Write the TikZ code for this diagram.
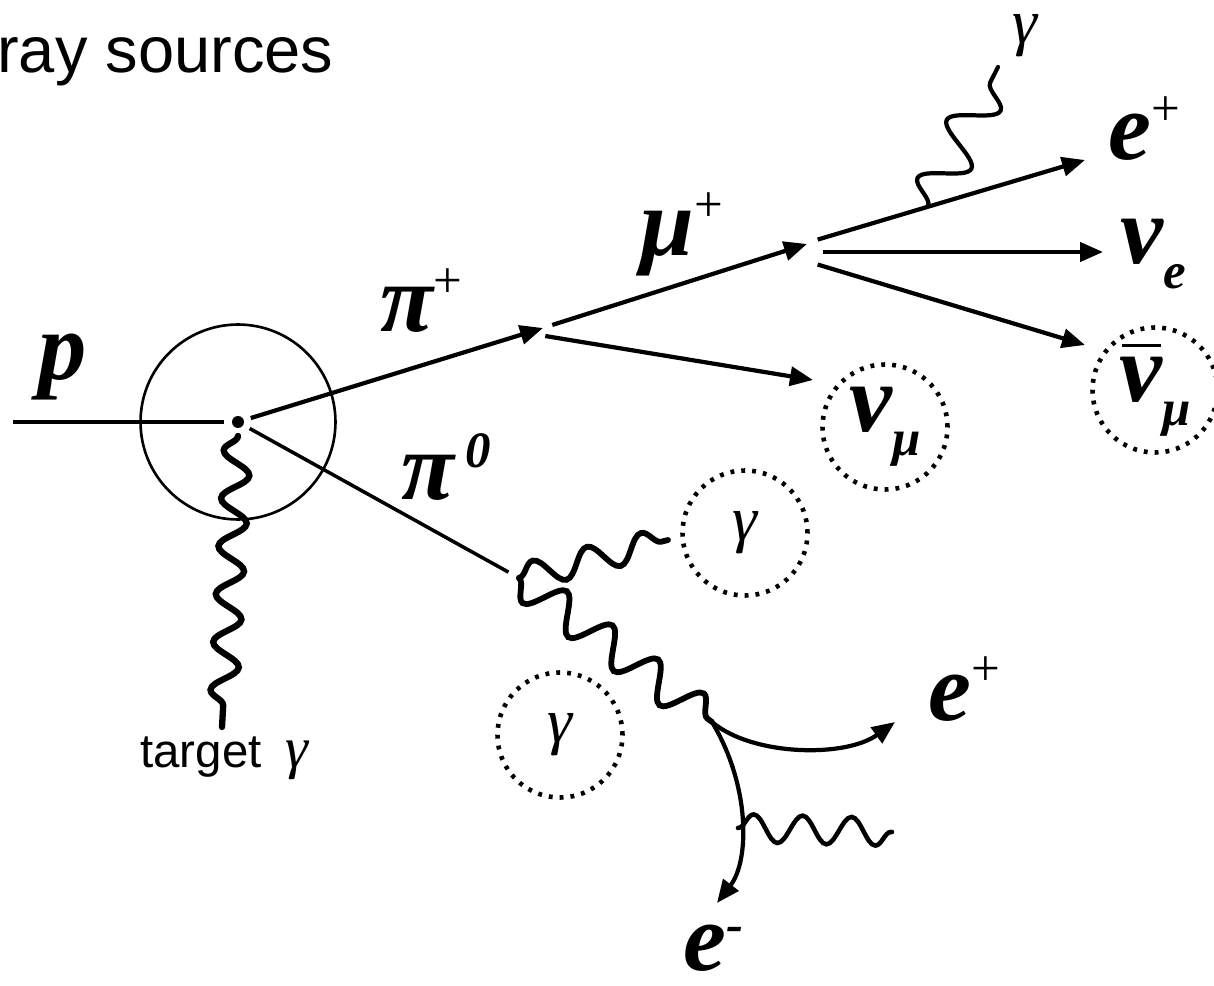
\documentclass[tikz,border=0pt]{standalone}
\usepackage{fontspec}
\setmainfont{Liberation Serif}
\newfontfamily\headfont{Liberation Sans}
\usetikzlibrary{arrows.meta, decorations.pathmorphing}

\newcommand\ptlfont{\fontsize{55}{55}\selectfont\bfseries\itshape}
\newcommand\scrfont{\fontsize{29}{29}\selectfont}
\newcommand\gamfont{\fontsize{36}{36}\selectfont\itshape}
\newcommand\psup[1]{\raisebox{0.36em}{\scrfont\mdseries\upshape #1}}
\newcommand\psub[1]{\raisebox{-0.25em}{\scrfont #1}}

\begin{document}
\begin{tikzpicture}[x=0.02cm, y=-0.02cm,
    lep/.style={line width=2.4pt},
    arr/.style={line width=2.4pt, -{Triangle[length=0.46cm, width=0.38cm]}},
    photon/.style 2 args={line width=3.3pt, line cap=round, decorate,
        decoration={snake, segment length=#1, amplitude=#2}},
    ptl/.style={inner sep=0pt, anchor=base west, font=\ptlfont},
    dotcirc/.style={circle, draw, dash pattern=on 2.2pt off 4pt, line width=2.6pt,
        minimum size=2.5cm, inner sep=0pt}]
    \useasboundingbox (0,0) rectangle (1214,986);

    \node[anchor=base west, inner sep=0pt, font=\headfont\fontsize{37}{37}\selectfont] (title) at (-3,73) {ray sources};

    % interaction point
    \node[circle, draw, line width=1.5pt, minimum size=3.9cm, inner sep=0pt] (target) at (238,422) {};
    \node[circle, fill, inner sep=0pt, minimum size=0.24cm] (vtx) at (238,422) {};

    \coordinate (beam) at (13,422);
    \coordinate (pitip) at (543,328);
    \coordinate (pidecay) at (527,333);
    \coordinate (mutip) at (807,244);
    \coordinate (numutip) at (813,380);
    \coordinate (mudecay) at (776,252);
    \coordinate (eptip) at (1085,160);
    \coordinate (nuetip) at (1103,252);
    \coordinate (nubtip) at (1085,345);
    \coordinate (radv) at (928,206);
    \coordinate (radend) at (998,67);
    \coordinate (pi0decay) at (519,578);
    \coordinate (g1end) at (668,540);
    \coordinate (conv) at (712,722);
    \coordinate (e2tip) at (895,722);
    \coordinate (emtip) at (717,903);
    \coordinate (brem) at (738,828);
    \coordinate (bremend) at (892,832);
    \coordinate (tgtop) at (238,436);
    \coordinate (tgend) at (222,727);

    % labels
    \node[ptl] (lp) at (38,380) {p};
    \node[ptl] (lpip) at (380,332) {π\psup{+}};
    \node[ptl] (lmu) at (640,256) {μ\psup{+}};
    \node[ptl] (lep) at (1108,160) {e\psup{+}};
    \node[ptl] (lnue) at (1120,264) {ν\psub{e}};
    \node[ptl] (lpi0) at (401,500) {π\hspace{0.12em}\raisebox{0.34em}{\scrfont 0}};
    \node[ptl] (lep2) at (928,720) {e\psup{+}};
    \node[ptl] (lem) at (683,970) {e\raisebox{0.3em}{\scrfont -}};
    \node[anchor=base, inner sep=0pt, font=\gamfont] (lgam) at (1025,44) {γ};
    \node[anchor=base west, inner sep=0pt, font=\headfont\fontsize{27}{27}\selectfont] (ltarget) at (140,767) {target\hspace{0.5em}{\rmfamily\itshape\fontsize{33}{33}\selectfont γ}};

    \node[dotcirc] (numu) at (885,427) {\ptlfont ν\psub{μ}};
    \node[dotcirc] (numubar) at (1155,390) {\ptlfont\rlap{\hspace{0.03em}\raisebox{0.56em}{\rule{0.4em}{0.035em}}}ν\psub{μ}};
    \node[dotcirc] (gam1) at (745,533) {\gamfont γ};
    \node[dotcirc] (gam2) at (560,735) {\gamfont γ};

    % tracks
    \draw[lep, shorten >=0.16cm] (beam) -- (vtx);
    \draw[arr, shorten <=0.14cm] (vtx) -- (pitip);
    \draw[arr, shorten <=0.53cm] (pidecay) -- (mutip);
    \draw[arr, shorten <=0.37cm] (pidecay) -- (numutip);
    \draw[arr, shorten <=0.87cm] (mudecay) -- (eptip);
    \draw[arr, shorten <=0.94cm] (mudecay) -- (nuetip);
    \draw[arr, shorten <=0.87cm] (mudecay) -- (nubtip);
    \draw[line width=2pt, shorten <=0.14cm, shorten >=0.24cm] (vtx) -- (pi0decay);
    \draw[arr] (conv) .. controls (752,756) and (845,758) .. (e2tip);
    \draw[arr] (conv) .. controls (750,785) and (750,860) .. (emtip);

    % photons
    \draw[photon={0.96cm}{0.27cm}, line width=3.6pt, decoration={mirror}] (tgtop) -- (tgend);
    \draw[photon={1.12cm}{0.27cm}] (pi0decay) -- (g1end);
    \draw[photon={1.14cm}{0.36cm}, decoration={mirror}] (pi0decay) -- (conv);
    \draw[photon={0.98cm}{0.28cm}, line width=2.6pt] (brem) -- (bremend);
    \draw[photon={1.3cm}{0.44cm}, line width=2.4pt] (radv) -- (radend);
\end{tikzpicture}
\end{document}
